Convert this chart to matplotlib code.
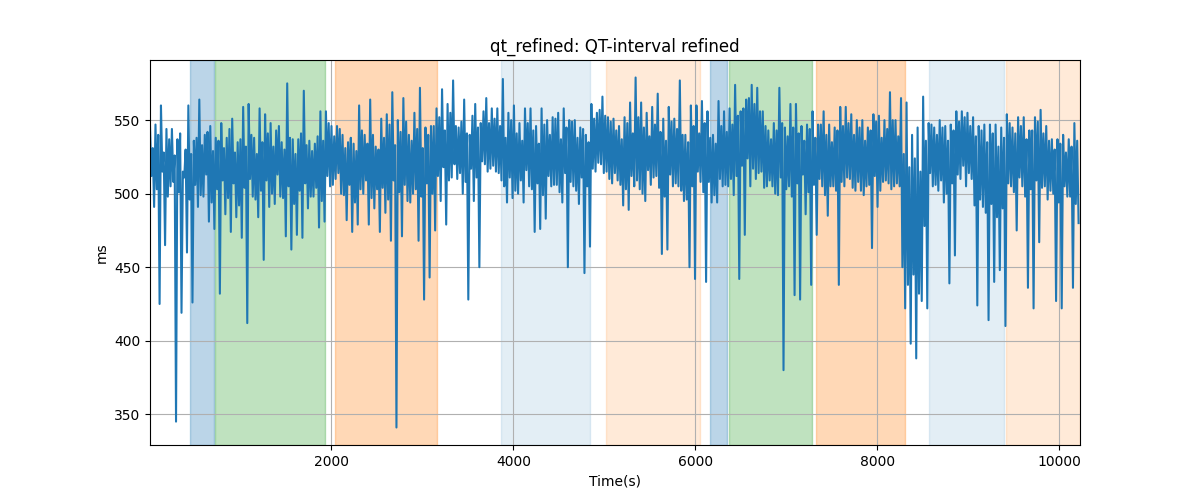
import matplotlib
matplotlib.use('Agg')
import matplotlib.pyplot as plt
import numpy as np

# QT values, per ~60 s window, in 8 time segments:
# hi/lo = extremes of the window, ch/cl = top/bottom of the dense core band
seg_start = [5, 1270, 2547, 3823, 5100, 6376, 7653, 8929]
seg_end = 10228

hi_1 = [546, 547, 560, 544, 544, 537, 515, 560, 536, 564, 540, 546, 538, 548, 538, 551, 535, 559, 561, 538, 558]
lo_1 = [491, 425, 465, 505, 345, 419, 460, 426, 491, 498, 481, 476, 432, 486, 474, 484, 470, 412, 498, 484, 455]
ch_1 = [531, 540, 528, 537, 526, 541, 530, 527, 538, 533, 542, 529, 536, 531, 544, 528, 537, 532, 540, 527, 535]
cl_1 = [512, 503, 515, 498, 508, 501, 511, 496, 506, 499, 513, 494, 503, 509, 497, 507, 492, 504, 510, 496, 502]

hi_2 = [554, 548, 543, 535, 575, 537, 537, 570, 536, 534, 556, 556, 546, 546, 540, 535, 534, 560, 540, 564, 532]
lo_2 = [491, 493, 498, 471, 462, 472, 470, 490, 498, 477, 481, 505, 510, 500, 482, 474, 479, 500, 479, 490, 474]
ch_2 = [541, 532, 546, 530, 538, 527, 541, 533, 529, 539, 536, 548, 539, 544, 531, 538, 529, 543, 534, 540, 530]
cl_2 = [509, 500, 513, 497, 505, 493, 502, 507, 498, 504, 495, 512, 506, 514, 499, 506, 494, 503, 509, 497, 503]

hi_3 = [551, 554, 569, 550, 565, 540, 555, 572, 545, 546, 558, 571, 561, 577, 545, 564, 540, 561, 548, 565, 558]
lo_3 = [487, 468, 341, 471, 495, 500, 468, 428, 443, 475, 495, 479, 511, 510, 500, 428, 495, 450, 520, 517, 515]
ch_3 = [538, 547, 533, 542, 549, 536, 544, 531, 540, 546, 552, 543, 555, 546, 549, 541, 553, 545, 556, 548, 551]
cl_3 = [504, 496, 509, 501, 506, 494, 503, 498, 507, 500, 512, 518, 509, 520, 514, 508, 517, 511, 522, 515, 519]

hi_4 = [558, 578, 555, 560, 548, 558, 558, 546, 558, 550, 552, 555, 558, 550, 550, 545, 540, 561, 555, 566, 552]
lo_4 = [509, 494, 497, 500, 494, 505, 474, 476, 483, 505, 506, 494, 450, 505, 493, 446, 464, 515, 520, 515, 507]
ch_4 = [546, 538, 550, 541, 536, 548, 543, 534, 547, 540, 551, 537, 545, 549, 538, 544, 535, 551, 557, 553, 549]
cl_4 = [514, 505, 511, 502, 509, 516, 503, 507, 499, 512, 506, 501, 514, 508, 502, 511, 505, 517, 521, 514, 510]

hi_5 = [551, 546, 552, 562, 579, 562, 555, 559, 568, 551, 559, 551, 577, 540, 560, 560, 563, 556, 540, 563, 556]
lo_5 = [509, 492, 489, 505, 503, 495, 506, 512, 459, 462, 505, 505, 495, 450, 442, 508, 440, 494, 494, 505, 505]
ch_5 = [543, 537, 548, 541, 552, 545, 539, 547, 542, 536, 549, 544, 540, 535, 546, 541, 548, 538, 534, 546, 542]
cl_5 = [514, 506, 503, 512, 509, 500, 516, 511, 504, 498, 513, 507, 502, 496, 505, 515, 501, 508, 499, 510, 506]

hi_6 = [558, 574, 556, 564, 574, 572, 556, 543, 548, 572, 545, 561, 561, 546, 547, 556, 547, 556, 547, 545, 559]
lo_6 = [499, 442, 472, 505, 510, 515, 505, 505, 499, 380, 505, 431, 428, 486, 438, 472, 505, 485, 505, 438, 505]
ch_6 = [547, 553, 558, 565, 561, 556, 546, 537, 543, 548, 539, 545, 541, 536, 544, 538, 547, 540, 535, 543, 546]
cl_6 = [510, 512, 519, 524, 517, 514, 504, 509, 500, 511, 503, 498, 507, 513, 501, 506, 510, 499, 505, 502, 508]

hi_7 = [559, 554, 550, 550, 545, 554, 553, 550, 569, 550, 565, 562, 540, 545, 566, 548, 545, 550, 546, 547, 556]
lo_7 = [510, 502, 502, 505, 463, 491, 508, 507, 505, 505, 422, 398, 388, 427, 422, 505, 502, 494, 439, 458, 510]
ch_7 = [548, 540, 545, 536, 543, 549, 538, 544, 550, 539, 527, 518, 524, 515, 536, 547, 540, 545, 536, 543, 549]
cl_7 = [511, 504, 508, 499, 506, 512, 502, 509, 503, 507, 450, 438, 445, 432, 478, 514, 506, 509, 500, 507, 513]

hi_8 = [556, 555, 552, 546, 547, 547, 547, 545, 554, 545, 552, 552, 543, 552, 557, 546, 537, 537, 540, 537, 548]
lo_8 = [505, 510, 424, 491, 414, 440, 448, 410, 505, 475, 505, 436, 422, 467, 505, 502, 427, 422, 498, 436, 480]
ch_8 = [552, 546, 539, 543, 535, 541, 532, 538, 548, 541, 546, 537, 543, 549, 541, 536, 530, 534, 528, 532, 536]
cl_8 = [519, 514, 492, 496, 487, 493, 484, 490, 507, 501, 511, 498, 503, 509, 504, 496, 500, 494, 505, 498, 493]

# shaded phases: (start, end, colour, alpha)
span_start = [445, 720, 2044, 3867, 5023, 6157, 6366, 7323, 8567, 9410]
span_end = [706, 1927, 3160, 4843, 6054, 6351, 7279, 8299, 9392, 10228]
span_color = ['tab:blue', 'tab:green', 'tab:orange', 'tab:blue', 'tab:orange',
              'tab:blue', 'tab:green', 'tab:orange', 'tab:blue', 'tab:orange']
span_alpha = [0.3, 0.3, 0.3, 0.12, 0.16, 0.3, 0.3, 0.3, 0.12, 0.16]

his = [hi_1, hi_2, hi_3, hi_4, hi_5, hi_6, hi_7, hi_8]
los = [lo_1, lo_2, lo_3, lo_4, lo_5, lo_6, lo_7, lo_8]
chs = [ch_1, ch_2, ch_3, ch_4, ch_5, ch_6, ch_7, ch_8]
cls = [cl_1, cl_2, cl_3, cl_4, cl_5, cl_6, cl_7, cl_8]
bounds = seg_start + [seg_end]

t_all, v_all = [], []
for k in range(len(his)):
    n = len(his[k])
    t = np.linspace(bounds[k], bounds[k + 1], 4 * n, endpoint=False)
    v = np.empty(4 * n)
    # each window: peak, core bottom, core top, trough
    v[0::4] = his[k]
    v[1::4] = cls[k]
    v[2::4] = chs[k]
    v[3::4] = los[k]
    t_all.append(t)
    v_all.append(v)
t_all = np.concatenate(t_all)
v_all = np.concatenate(v_all)

fig, ax = plt.subplots(figsize=(12, 5), dpi=100)
for s, e, c, a in zip(span_start, span_end, span_color, span_alpha):
    ax.axvspan(s, e, color=c, alpha=a)
ax.plot(t_all, v_all, color='tab:blue')
ax.set_xlim(seg_start[0], seg_end)
ax.set_title('qt_refined: QT-interval refined')
ax.set_xlabel('Time(s)')
ax.set_ylabel('ms')
ax.grid(True)

plt.savefig('out.png')
plt.close()
